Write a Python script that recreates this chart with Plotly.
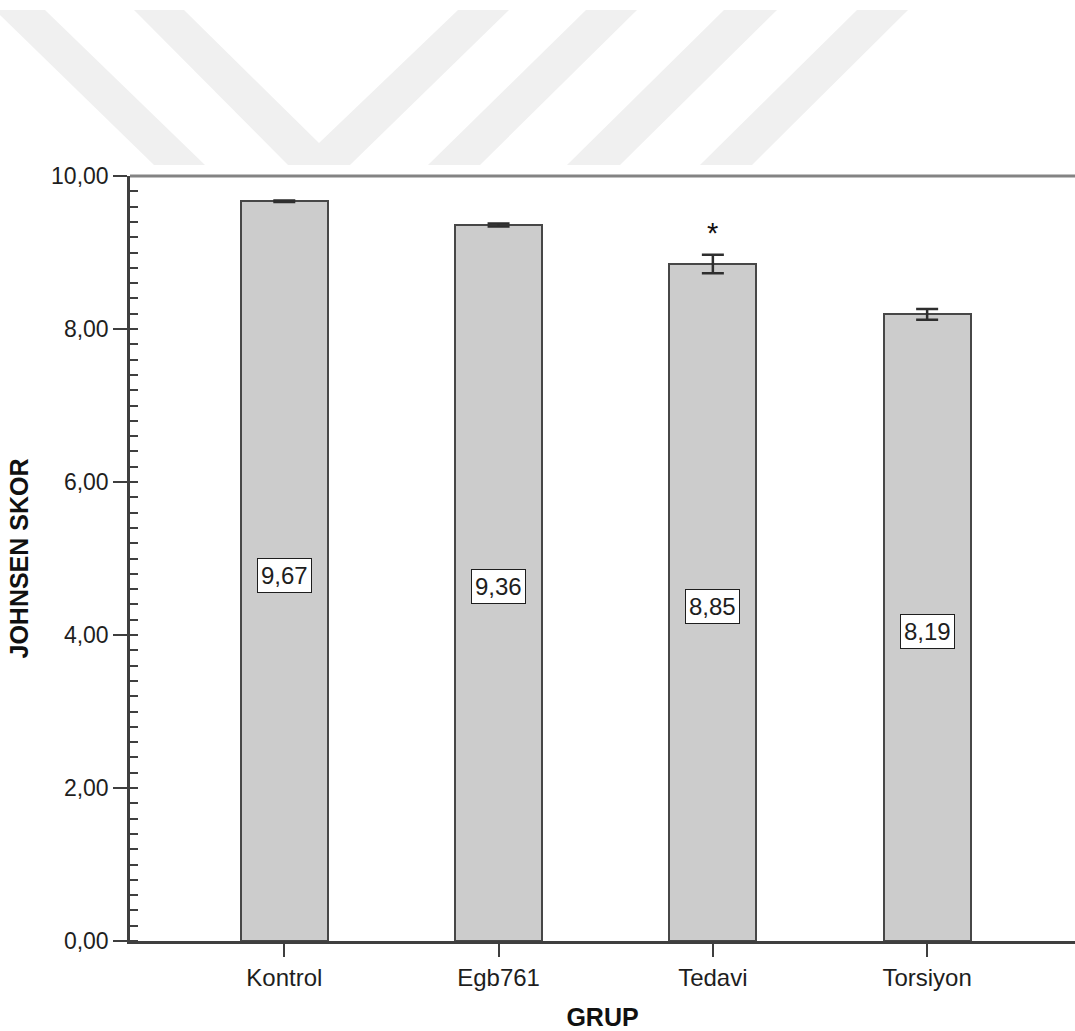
import plotly.graph_objects as go

# Johnsen scores per group (mean and error)
groups = ["Kontrol", "Egb761", "Tedavi", "Torsiyon"]
means = [9.67, 9.36, 8.85, 8.19]
errors = [0.01, 0.02, 0.12, 0.07]
significant = ["", "", "*", ""]

y_tick_vals = [0, 2, 4, 6, 8, 10]
y_tick_text = ["0,00", "2,00", "4,00", "6,00", "8,00", "10,00"]

W, H = 1075, 1031
M_L, M_R, M_T, M_B = 130, 0, 176, 90

FONT = "Liberation Sans, Arial, sans-serif"
AXIS_COLOR = "#3f3f3f"
TEXT_COLOR = "#1e1e1e"

fig = go.Figure()
fig.add_trace(go.Bar(
    x=groups,
    y=means,
    width=0.406,
    marker=dict(color="#cccccc", line=dict(color="#474747", width=2)),
    error_y=dict(type="data", array=errors, visible=True,
                 color="#2e2e2e", thickness=2.5, width=11),
    hoverinfo="x+y",
    showlegend=False,
))

annotations = []
for g, m, e, s in zip(groups, means, errors, significant):
    annotations.append(dict(
        x=g, y=m / 2, xref="x", yref="y",
        text=f"{m:.2f}".replace(".", ","),
        showarrow=False, yshift=-4,
        font=dict(family=FONT, size=24, color=TEXT_COLOR),
        bgcolor="white", bordercolor="#1e1e1e", borderwidth=1, borderpad=3,
    ))
    if s:
        annotations.append(dict(
            x=g, y=m + e, xref="x", yref="y", text=s,
            showarrow=False, yanchor="bottom", yshift=4,
            font=dict(family=FONT, size=29, color="#111111"),
        ))


def px_to_paper(px, py):
    return ((px - M_L) / (W - M_L - M_R), (H - M_B - py) / (H - M_T - M_B))


def poly(points):
    pts = [px_to_paper(x, y) for x, y in points]
    return "M " + " L ".join(f"{x:.5f},{y:.5f}" for x, y in pts) + " Z"


# faint watermark chevrons behind the header
watermark = [
    [(-5, 10), (45, 10), (205, 165), (154, 165)],
    [(134, 10), (184, 10), (319, 143), (458, 10), (509, 10), (350, 165), (288, 165)],
    [(586, 10), (637, 10), (480, 165), (428, 165)],
    [(724, 10), (777, 10), (620, 165), (567, 165)],
    [(857, 10), (908, 10), (752, 165), (700, 165)],
]
shapes = [dict(type="path", xref="paper", yref="paper", path=poly(p),
               fillcolor="#f0f0f0", line=dict(width=0), layer="below")
          for p in watermark]

# grey frame line along the top of the plot area
shapes.append(dict(type="line", xref="paper", yref="paper", x0=0, x1=1, y0=1, y1=1,
                   line=dict(color="#838383", width=3), layer="above"))

fig.update_layout(
    width=W, height=H,
    margin=dict(l=M_L, r=M_R, t=M_T, b=M_B),
    paper_bgcolor="white", plot_bgcolor="white",
    font=dict(family=FONT, size=23, color=TEXT_COLOR),
    annotations=annotations,
    shapes=shapes,
    bargap=0,
)

fig.update_xaxes(
    range=[-0.72, 3.69],
    showgrid=False, zeroline=False,
    showline=True, linecolor=AXIS_COLOR, linewidth=2.5,
    ticks="outside", ticklen=13, tickwidth=2, tickcolor=AXIS_COLOR,
    tickfont=dict(family=FONT, size=24, color=TEXT_COLOR),
    title=dict(text="<b>GRUP</b>", font=dict(family=FONT, size=25, color="#111111"),
               standoff=22),
)

fig.update_yaxes(
    range=[0, 10],
    tickvals=y_tick_vals, ticktext=y_tick_text,
    showgrid=False, zeroline=False,
    showline=True, linecolor=AXIS_COLOR, linewidth=2.5,
    ticks="outside", ticklen=14, tickwidth=2, tickcolor=AXIS_COLOR,
    tickfont=dict(family=FONT, size=23, color=TEXT_COLOR),
    minor=dict(dtick=0.2, ticks="inside", ticklen=8, tickwidth=2, tickcolor=AXIS_COLOR),
    title=dict(text="<b>JOHNSEN SKOR</b>", font=dict(family=FONT, size=25, color="#111111"),
               standoff=16),
)

fig.write_html("out.html")
